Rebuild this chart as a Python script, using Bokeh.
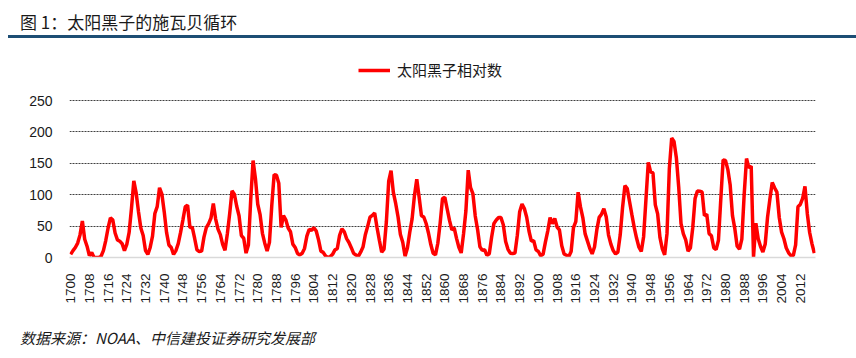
import math
from bokeh.plotting import figure
from bokeh.layouts import column
from bokeh.models import Range1d, FixedTicker, Legend, LegendItem, Div
from bokeh.embed import file_html
from bokeh.resources import INLINE

# ---------------- data ----------------
years = list(range(1700, 2019))
sunspots = [
    # 1700-1709
    5, 11, 16, 23, 36, 58, 29, 18, 3, 8,
    # 1710-1719
    0, 0, 0, 2, 11, 27, 47, 63, 60, 39,
    # 1720-1729
    28, 26, 22, 11, 21, 40, 78, 122, 103, 73,
    # 1730-1739
    47, 35, 11, 5, 16, 34, 70, 81, 111, 101,
    # 1740-1749
    73, 40, 20, 16, 5, 11, 22, 40, 60, 80.9,
    # 1750-1759
    83.4, 47.7, 47.8, 30.7, 12.2, 9.6, 10.2, 32.4, 47.6, 54.0,
    # 1760-1769
    62.9, 85.9, 61.2, 45.1, 36.4, 20.9, 11.4, 37.8, 69.8, 106.1,
    # 1770-1779
    100.8, 81.6, 66.5, 34.8, 30.6, 7.0, 19.8, 92.5, 154.4, 125.9,
    # 1780-1789
    84.8, 68.1, 38.5, 22.8, 10.2, 24.1, 82.9, 132.0, 130.9, 118.1,
    # 1790-1799
    48.0, 66.6, 60.0, 46.9, 41.0, 21.3, 16.0, 6.4, 4.1, 6.8,
    # 1800-1809
    14.5, 34.0, 45.0, 43.1, 47.5, 42.2, 28.1, 10.1, 8.1, 2.5,
    # 1810-1819
    0.0, 1.4, 5.0, 12.2, 13.9, 35.4, 45.8, 41.0, 30.1, 23.9,
    # 1820-1829
    15.6, 6.6, 4.0, 1.8, 8.5, 16.6, 36.3, 49.6, 64.2, 67.0,
    # 1830-1839
    70.9, 47.8, 27.5, 8.5, 13.2, 56.9, 121.5, 138.3, 103.2, 85.7,
    # 1840-1849
    64.6, 36.7, 24.2, 2.0, 15.0, 40.1, 61.5, 98.5, 124.7, 96.3,
    # 1850-1859
    66.6, 64.5, 54.1, 39.0, 20.6, 6.7, 4.3, 22.7, 54.8, 93.8,
    # 1860-1869
    95.8, 77.2, 59.1, 44.0, 47.0, 30.5, 16.3, 7.3, 37.6, 74.0,
    # 1870-1879
    139.0, 111.2, 101.6, 66.2, 44.7, 17.0, 11.3, 12.4, 3.4, 6.0,
    # 1880-1889
    32.3, 54.3, 59.7, 63.7, 63.5, 52.2, 25.4, 13.1, 6.8, 6.3,
    # 1890-1899
    7.1, 35.6, 73.0, 85.1, 78.0, 64.0, 41.8, 26.2, 26.7, 12.1,
    # 1900-1909
    9.5, 2.7, 5.0, 24.4, 42.0, 63.5, 53.8, 62.0, 48.5, 43.9,
    # 1910-1919
    18.6, 5.7, 3.6, 1.4, 9.6, 47.4, 57.1, 103.9, 80.6, 63.6,
    # 1920-1929
    37.6, 26.1, 14.2, 5.8, 16.7, 44.3, 63.9, 69.0, 77.8, 64.9,
    # 1930-1939
    35.7, 21.2, 11.1, 5.7, 8.7, 36.1, 79.7, 114.4, 109.6, 88.8,
    # 1940-1949
    67.8, 47.5, 30.6, 16.3, 9.6, 33.2, 92.6, 151.6, 136.3, 134.7,
    # 1950-1959
    83.9, 69.4, 31.5, 13.9, 4.4, 38.0, 141.7, 190.2, 184.8, 159.0,
    # 1960-1969
    112.3, 53.9, 37.6, 27.9, 10.2, 15.1, 47.0, 93.8, 105.9, 105.5,
    # 1970-1979
    104.5, 66.6, 68.9, 38.0, 34.5, 15.5, 12.6, 27.5, 92.5, 155.4,
    # 1980-1989
    154.6, 140.4, 115.9, 66.6, 45.9, 17.9, 13.4, 29.4, 100.2, 157.6,
    # 1990-1999
    142.6, 145.7, 1.0, 54.6, 29.9, 17.5, 8.6, 21.5, 64.3, 93.3,
    # 2000-2009
    119.6, 111.0, 104.0, 63.7, 40.4, 29.8, 15.2, 7.5, 2.9, 3.1,
    # 2010-2018
    20.0, 80.8, 84.5, 94.0, 113.3, 69.8, 39.8, 21.7, 7.0,
]
tick_years = list(range(1700, 2013, 8))
y_ticks = [0, 50, 100, 150, 200, 250]
grid_ticks = [50, 100, 150, 200, 250]
title_text = "图 1：太阳黑子的施瓦贝循环"
source_text = "数据来源：NOAA、中信建投证券研究发展部"
series_name = "太阳黑子相对数"

# ---------------- header ----------------
header = Div(
    text=(
        '<div style="position:relative;width:856px;height:38px;">'
        '<div style="position:absolute;left:20px;top:8px;height:27px;'
        'line-height:27px;font-family:\'Noto Sans CJK SC\';font-size:17px;'
        'color:#1a1a1a;white-space:nowrap;">' + title_text + '</div>'
        '<div style="position:absolute;left:8px;top:35px;width:848px;height:3px;'
        'background:#1d4e74;"></div>'
        '</div>'
    ),
    width=856, height=38, margin=0,
)

# ---------------- figure ----------------
p = figure(
    frame_width=746, frame_height=205,
    x_range=Range1d(1699.5, 2018.5), y_range=Range1d(0, 250 * 205 / 157),
    output_backend="svg", toolbar_location=None,
    min_border_left=69, min_border_right=41,
    min_border_top=14, min_border_bottom=61,
    margin=0,
)
p.outline_line_color = None
p.background_fill_color = "white"
p.border_fill_color = "white"

# x axis
p.xaxis.ticker = FixedTicker(ticks=tick_years)
p.xaxis.major_label_orientation = math.pi / 2
p.xaxis.major_tick_line_color = None
p.xaxis.minor_tick_line_color = None
p.xaxis.axis_line_color = "#d9d9d9"
p.xaxis.axis_line_width = 1.5
p.xaxis.major_label_standoff = 10
p.xaxis.major_label_text_font = "Liberation Sans"
p.xaxis.major_label_text_font_size = "13.5px"
p.xaxis.major_label_text_color = "#1a1a1a"

# y axis
p.yaxis.ticker = FixedTicker(ticks=y_ticks)
p.yaxis.axis_line_color = None
p.yaxis.major_tick_line_color = None
p.yaxis.minor_tick_line_color = None
p.yaxis.major_label_standoff = 11
p.yaxis.major_label_text_font = "Liberation Sans"
p.yaxis.major_label_text_font_size = "14px"
p.yaxis.major_label_text_color = "#1a1a1a"

# grids
p.xgrid.grid_line_color = None
p.ygrid.ticker = FixedTicker(ticks=grid_ticks)
p.ygrid.grid_line_color = "#404040"
p.ygrid.grid_line_dash = "2 1"
p.ygrid.grid_line_width = 1

# series
r = p.line(years, sunspots, line_color="#FF0000", line_width=3.5)

legend = Legend(
    items=[LegendItem(label=series_name, renderers=[r])],
    location=(289, 177),
    border_line_color=None, background_fill_alpha=0,
    label_text_font="Noto Sans CJK SC", label_text_font_size="15px",
    label_text_color="#1a1a1a",
    glyph_width=32, glyph_height=16, label_standoff=7,
    padding=0, margin=0, spacing=0,
)
p.add_layout(legend)

# ---------------- source ----------------
source = Div(
    text=(
        '<div style="padding-left:20px;padding-top:8px;line-height:24px;'
        'font-family:\'Noto Sans CJK SC\';font-size:15px;font-style:italic;'
        'color:#1a1a1a;white-space:nowrap;">' + source_text + '</div>'
    ),
    width=856, height=36, margin=0,
)

layout = column(header, p, source, spacing=0, margin=0)
open("out.html", "w").write(file_html(layout, INLINE))
